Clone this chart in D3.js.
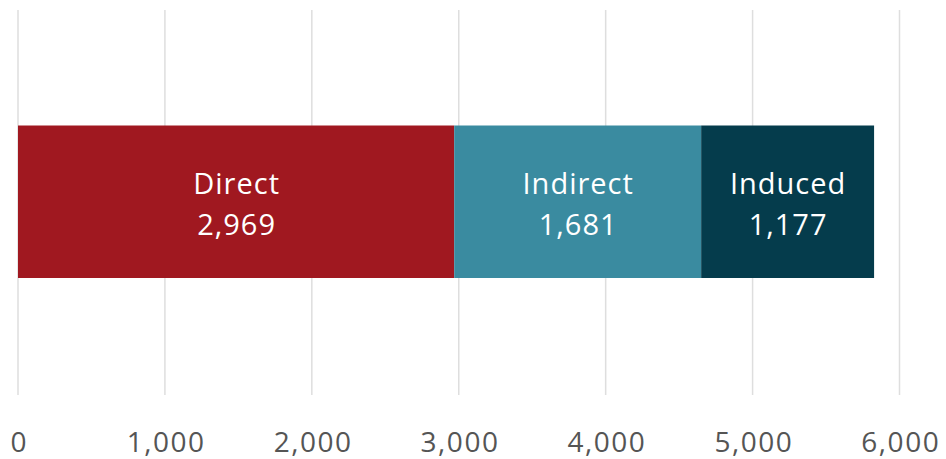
<!DOCTYPE html>
<html><head><meta charset="utf-8">
<script src="https://cdn.jsdelivr.net/npm/d3@7"></script>
<style>body{margin:0;background:#fff;} svg{display:block;}</style>
</head><body>
<svg id="chart" width="946" height="459"></svg>
<script>
const categories = ["Direct", "Indirect", "Induced"];
const values = [2969, 1681, 1177];
const colors = ["#A01820", "#3A8BA0", "#053C4C"];
const tickValues = [0, 1000, 2000, 3000, 4000, 5000, 6000];

const svg = d3.select("#chart");
const font = "'Open Sans', sans-serif";
const x = d3.scaleLinear().domain([0, 6000]).range([18, 899.5]);

// gridlines
svg.append("g").selectAll("line").data(tickValues).join("line")
  .attr("x1", d => x(d)).attr("x2", d => x(d))
  .attr("y1", 10).attr("y2", 395)
  .attr("stroke", "#dedede").attr("stroke-width", 1.5);

// stacked data
let acc = 0;
const segs = categories.map((c, i) => { const s = {cat: c, v: values[i], x0: acc, x1: acc + values[i], color: colors[i]}; acc += values[i]; return s; });

const barTop = 125.5, barH = 152.5;
svg.append("g").selectAll("rect").data(segs).join("rect")
  .attr("x", d => x(d.x0)).attr("width", d => x(d.x1) - x(d.x0))
  .attr("y", barTop).attr("height", barH)
  .attr("fill", d => d.color);

const lbl = svg.append("g").selectAll("g").data(segs).join("g")
  .attr("transform", d => `translate(${(x(d.x0) + x(d.x1)) / 2 + 0.5},0)`);
lbl.append("text").attr("y", 194).attr("text-anchor", "middle")
  .attr("fill", "#fff").style("font-family", font).style("font-size", "29px")
  .style("letter-spacing", "1px")
  .text(d => d.cat);
lbl.append("text").attr("y", 235).attr("text-anchor", "middle")
  .attr("fill", "#fff").style("font-family", font).style("font-size", "29px")
  .style("letter-spacing", "1px")
  .text(d => d3.format(",")(d.v));

// axis
const axis = d3.axisBottom(x).tickValues(tickValues).tickFormat(d3.format(",")).tickSize(0).tickPadding(0);
const ag = svg.append("g").attr("transform", "translate(0,452)").call(axis);
ag.select(".domain").remove();
ag.selectAll("text").attr("dy", 0).attr("dx", "0.75px").attr("fill", "#555")
  .style("font-family", font).style("font-size", "28px").style("letter-spacing", "1.5px");
</script>
</body></html>
